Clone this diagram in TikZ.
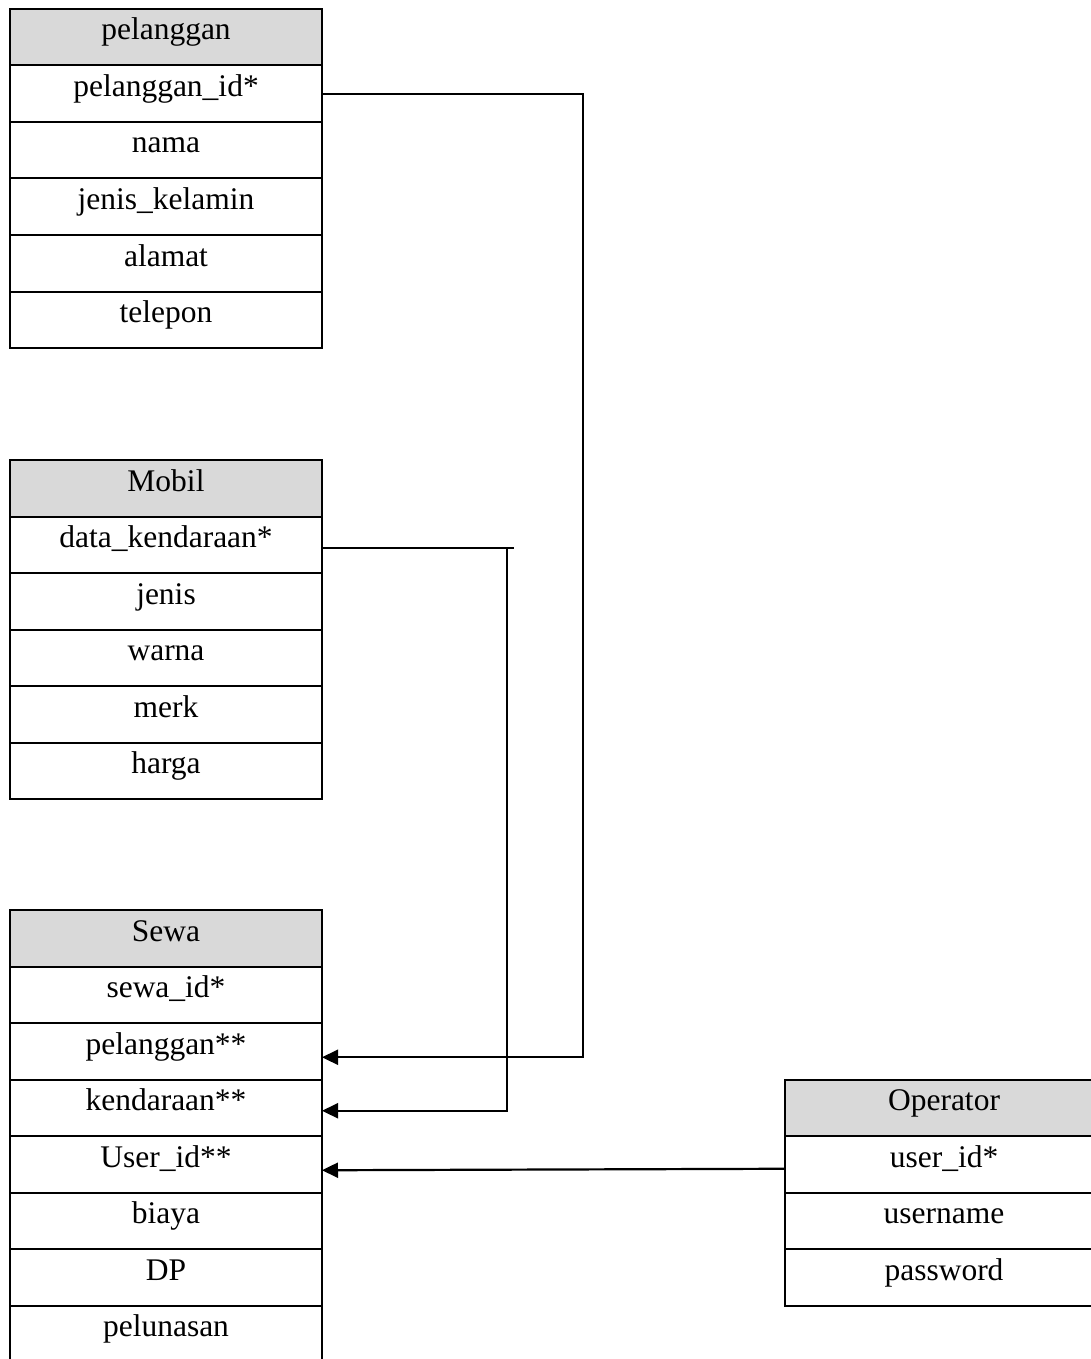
\documentclass[tikz,border=0pt]{standalone}
\usepackage{fontspec}
\setmainfont{Liberation Serif}
\usetikzlibrary{arrows.meta,positioning}
\definecolor{hdr}{HTML}{D9D9D9}
\tikzset{
  cell/.style={draw=black, line width=2pt, inner sep=0pt, outer sep=0pt, minimum width=312pt,
    text height=31pt, text depth=25.5pt, font=\fontsize{31.5}{38}\selectfont, anchor=north},
  hcell/.style={cell, fill=hdr},
  opcell/.style={cell, minimum width=318pt},
  ophcell/.style={opcell, fill=hdr},
  conn/.style={draw=black, line width=2.2pt},
  fk/.style={conn, -{Triangle[length=16pt,width=15pt]}}
}
\begin{document}
\begin{tikzpicture}[x=1pt,y=-1pt]
\useasboundingbox (0,0) rectangle (1091,1359);
\clip (0,0) rectangle (1091,1359);
% pelanggan
\node[hcell] (p0) at (166,9) {pelanggan};
\node[cell,below=0pt of p0] (p1) {pelanggan\_id*};
\node[cell,below=0pt of p1] (p2) {nama};
\node[cell,below=0pt of p2] (p3) {jenis\_kelamin};
\node[cell,below=0pt of p3] (p4) {alamat};
\node[cell,below=0pt of p4] (p5) {telepon};
% Mobil
\node[hcell] (m0) at (166,460) {Mobil};
\node[cell,below=0pt of m0] (m1) {data\_kendaraan*};
\node[cell,below=0pt of m1] (m2) {jenis};
\node[cell,below=0pt of m2] (m3) {warna};
\node[cell,below=0pt of m3] (m4) {merk};
\node[cell,below=0pt of m4] (m5) {harga};
% Sewa
\node[hcell] (s0) at (166,910) {Sewa};
\node[cell,below=0pt of s0] (s1) {sewa\_id*};
\node[cell,below=0pt of s1] (s2) {pelanggan**};
\node[cell,below=0pt of s2] (s3) {kendaraan**};
\node[cell,below=0pt of s3] (s4) {User\_id**};
\node[cell,below=0pt of s4] (s5) {biaya};
\node[cell,below=0pt of s5] (s6) {DP};
\node[cell,below=0pt of s6] (s7) {pelunasan};
% Operator
\node[ophcell] (o0) at (944,1079.5) {Operator};
\node[opcell,below=0pt of o0] (o1) {user\_id*};
\node[opcell,below=0pt of o1] (o2) {username};
\node[opcell,below=0pt of o2] (o3) {password};
% connectors
\draw[fk] (p1.east) -- ++(261,0) |- ([yshift=-6pt]s2.east);
\draw[conn] ([yshift=-3pt]m1.east) -- ++(192,0);
\draw[fk] ([xshift=185pt,yshift=-3pt]m1.east) |- ([yshift=-3pt]s3.east);
\draw[fk] ([yshift=-4.5pt]o1.west) -- ([yshift=-6pt]s4.east);
\end{tikzpicture}
\end{document}
